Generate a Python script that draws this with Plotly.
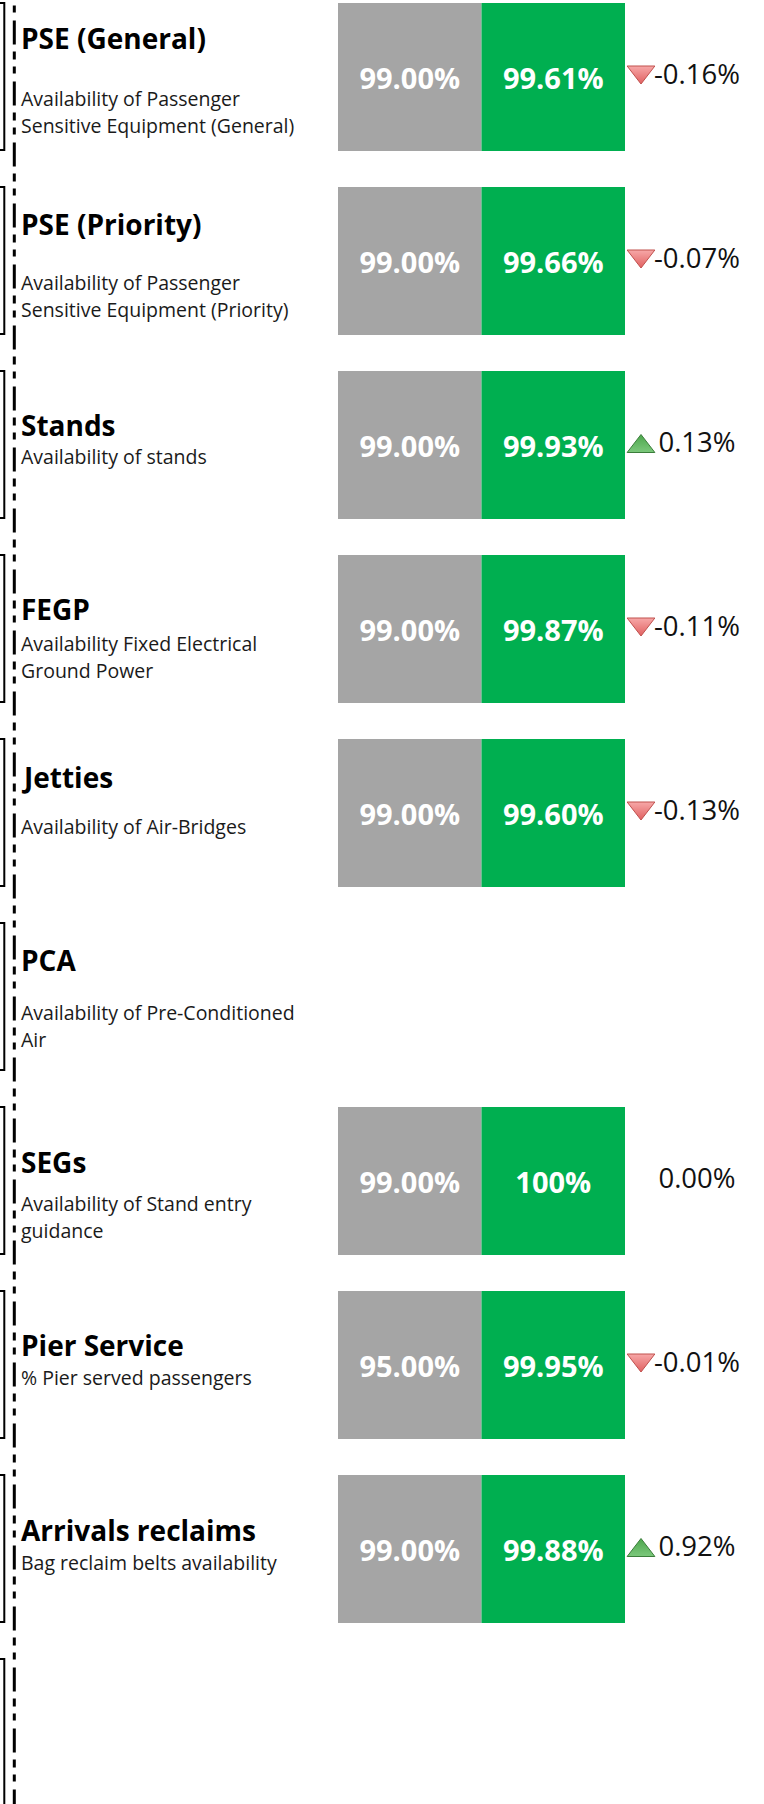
import plotly.graph_objects as go

# ---------------- data ----------------
categories = ["PSE (General)", "PSE (Priority)", "Stands", "FEGP", "Jetties",
              "PCA", "SEGs", "Pier Service", "Arrivals reclaims", ""]
descriptions = [
    ["Availability of Passenger", "Sensitive Equipment (General)"],
    ["Availability of Passenger", "Sensitive Equipment (Priority)"],
    ["Availability of stands"],
    ["Availability Fixed Electrical", "Ground Power"],
    ["Availability of Air-Bridges"],
    ["Availability of Pre-Conditioned", "Air"],
    ["Availability of Stand entry", "guidance"],
    ["% Pier served passengers"],
    ["Bag reclaim belts availability"],
    [],
]
targets = [99.00, 99.00, 99.00, 99.00, 99.00, None, 99.00, 95.00, 99.00, None]
actuals = [99.61, 99.66, 99.93, 99.87, 99.60, None, 100.00, 99.95, 99.88, None]
changes = [-0.16, -0.07, 0.13, -0.11, -0.13, None, 0.00, -0.01, 0.92, None]

# ---------------- layout constants (pixels) ----------------
W, H = 764, 1804
PITCH = 184          # px per row
FIRST_CENTER = 77    # px centre of first row
BAR_H = 148
HALF = 74
TITLE_DY = [35, 37, 54, 54, 38, 37, 55, 54, 55, 0]   # title centre offset from row top
DESC_DY = [95, 95, 85, 88, 87, 89, 96, 86, 87, 0]    # first description line offset
LINE_GAP = 27.5
FONT = "Open Sans"

rows = list(range(len(categories)))


def fmt(v):
    if v is None:
        return ""
    if abs(v - 100) < 1e-9:
        return "100%"
    return f"{v:.2f}%"


def ypx(i, dy):
    """row index + pixel offset from row top -> y data units"""
    return i + (dy - HALF) / PITCH


fig = go.Figure()

# target (grey) and actual (green) blocks
for vals, base, col in [(targets, 0, "#A5A5A5"), (actuals, 1, "#00AF50")]:
    fig.add_trace(go.Bar(
        y=rows, x=[1 if v is not None else None for v in vals], base=base,
        orientation="h", xaxis="x2", yaxis="y",
        width=BAR_H / PITCH, marker=dict(color=col, line=dict(width=0)),
        text=[fmt(v) for v in vals], textposition="inside",
        insidetextanchor="middle", constraintext="none", textangle=0,
        textfont=dict(family=FONT, size=29, color="white", weight="bold"),
        hoverinfo="skip", showlegend=False,
    ))

# change indicators
up_i = [i for i, c in enumerate(changes) if c is not None and c > 0]
dn_i = [i for i, c in enumerate(changes) if c is not None and c < 0]
fig.add_trace(go.Scatter(
    x=[641] * len(dn_i), y=[ypx(i, HALF - 5) for i in dn_i], mode="markers",
    marker=dict(symbol="triangle-down", size=24, color="#F7A8A8",
                gradient=dict(type="vertical", color="#E06060"),
                line=dict(color="#C0504D", width=1)),
    hoverinfo="skip", showlegend=False, xaxis="x", yaxis="y"))
fig.add_trace(go.Scatter(
    x=[641] * len(up_i), y=[ypx(i, HALF + 1.5) for i in up_i], mode="markers",
    marker=dict(symbol="triangle-up", size=24, color="#4CA64C",
                gradient=dict(type="vertical", color="#7CC87C"),
                line=dict(color="#3A7D3A", width=1)),
    hoverinfo="skip", showlegend=False, xaxis="x", yaxis="y"))
ch_i = [i for i, c in enumerate(changes) if c is not None]
fig.add_trace(go.Scatter(
    x=[697] * len(ch_i), y=[ypx(i, HALF) for i in ch_i], mode="text",
    text=[f"{changes[i]:.2f}%" for i in ch_i], textposition="middle center",
    textfont=dict(family=FONT, size=27.5, color="#111111"),
    hoverinfo="skip", showlegend=False, xaxis="x", yaxis="y"))

# titles & descriptions
annotations = []
for i, (cat, desc) in enumerate(zip(categories, descriptions)):
    if cat:
        annotations.append(dict(
            x=19, y=ypx(i, TITLE_DY[i]), xref="x", yref="y", text=cat,
            showarrow=False, xanchor="left", yanchor="middle",
            font=dict(family=FONT, size=28, color="#000000", weight="bold")))
    for k, line in enumerate(desc):
        annotations.append(dict(
            x=19, y=ypx(i, DESC_DY[i] + k * LINE_GAP), xref="x", yref="y",
            text=line, showarrow=False, xanchor="left", yanchor="middle",
            font=dict(family=FONT, size=19.5, color="#1A1A1A")))

# left boxes + dashed divider
shapes = []
for i in rows:
    shapes.append(dict(type="rect", xref="x", yref="y", x0=-10, x1=4.3,
                       y0=ypx(i, 0), y1=ypx(i, 147),
                       line=dict(color="black", width=2), fillcolor="rgba(0,0,0,0)"))
shapes.append(dict(type="line", xref="x", yref="paper", x0=14.3, x1=14.3,
                   y0=1 + 40.5 / H, y1=-0.02,
                   line=dict(color="black", width=3,
                             dash="24px,7px,8px,7px,7px,8px")))

fig.update_layout(
    width=W, height=H,
    margin=dict(l=0, r=0, t=0, b=0, pad=0),
    paper_bgcolor="white", plot_bgcolor="white",
    barmode="overlay",
    xaxis=dict(domain=[0, 1], range=[0, W], visible=False, anchor="y", fixedrange=True),
    xaxis2=dict(domain=[338 / W, 625 / W], range=[0, 2], visible=False, anchor="y",
                fixedrange=True),
    yaxis=dict(domain=[0, 1],
               range=[(H - FIRST_CENTER) / PITCH, -FIRST_CENTER / PITCH],
               visible=False, anchor="x", fixedrange=True),
    annotations=annotations, shapes=shapes,
    showlegend=False,
)

fig.write_html("out.html",
               config={"displayModeBar": False},
               post_script="document.body.style.margin='0';document.body.style.overflow='hidden';")
